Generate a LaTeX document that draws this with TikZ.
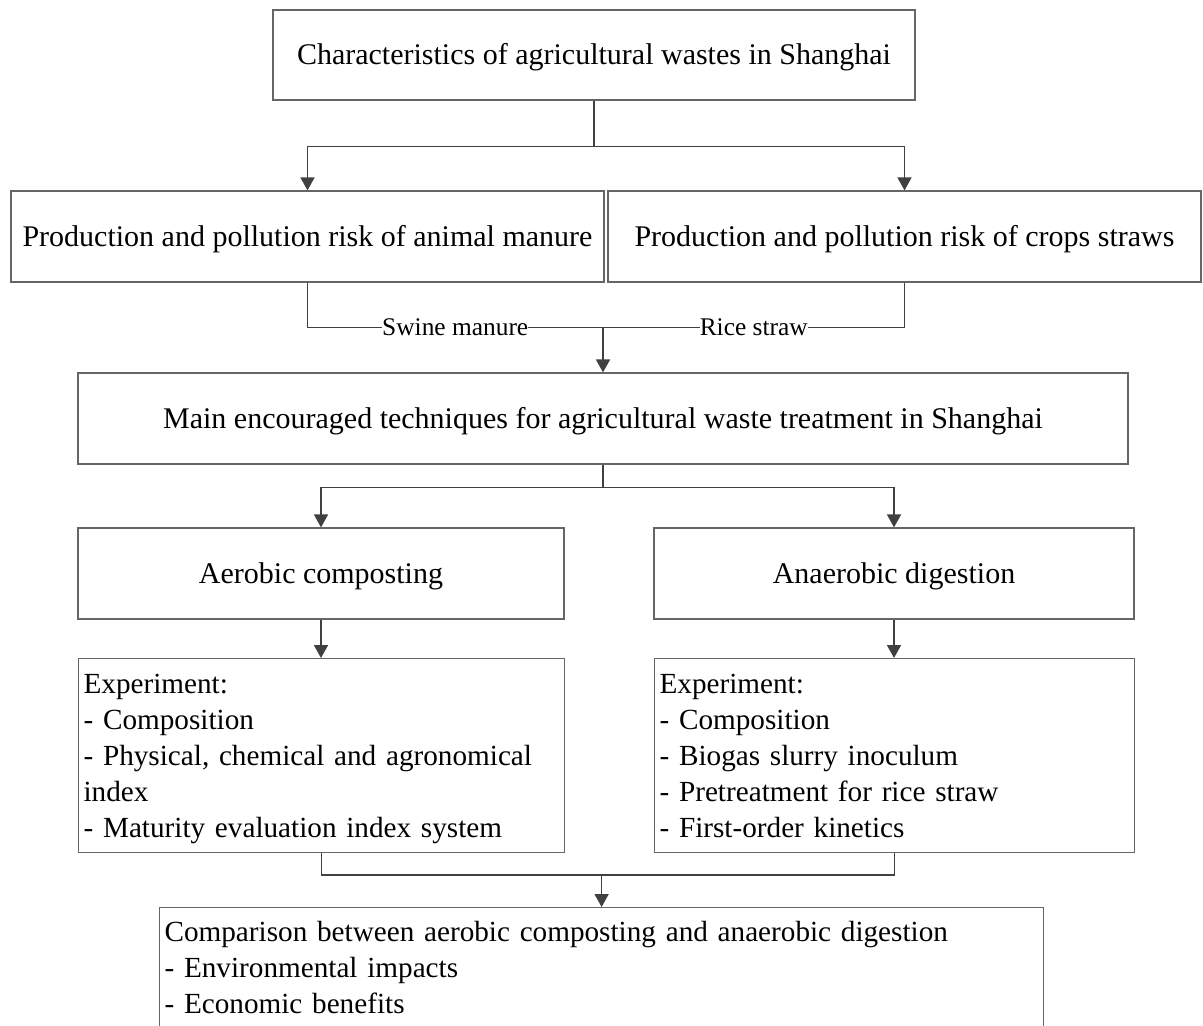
\documentclass[tikz,border=0pt]{standalone}
\usepackage{fontspec}
\setmainfont{Liberation Serif}
\usepackage{tikz}
\usetikzlibrary{arrows.meta}

\tikzset{
	box/.style={draw=black!60, line width=0.6pt, minimum height=45.5pt, inner sep=0pt, text height=11pt, text depth=1pt, font=\fontsize{15}{18}\selectfont},
	listbox/.style={draw=black!60, line width=0.6pt, anchor=north west, align=left, inner xsep=2.5pt, inner ysep=0pt, text height=17.5pt, text depth=79.5pt, font=\fontsize{14.6}{18}\selectfont},
	link/.style={draw=black!75, line width=0.85pt},
	arr/.style={link, -{Triangle[width=7pt,length=6.5pt]}},
	lbl/.style={fill=white, inner xsep=0pt, inner ysep=1pt, font=\fontsize{12.7}{15}\selectfont}
}

\begin{document}
\begin{tikzpicture}[x=0.5pt, y=-0.5pt]
		\useasboundingbox (0,0) rectangle (1203,1026);
		\clip (0,0) rectangle (1203,1026);

		\node[box, minimum width=321pt, minimum height=45pt] (chars) at (594,55) {Characteristics of agricultural wastes in Shanghai};
		\node[box, minimum width=296.5pt] (manure) at (307.5,236.5) {Production and pollution risk of animal manure};
		\node[box, minimum width=296.5pt] (straw) at (904.5,236.5) {Production and pollution risk of crops straws};
		\node[box, minimum width=525pt] (tech) at (603,418.5) {Main encouraged techniques for agricultural waste treatment in Shanghai};
		\node[box, minimum width=243pt] (aerobic) at (321,573.5) {Aerobic composting};
		\node[box, minimum width=240pt] (anaerobic) at (894,573.5) {Anaerobic digestion};
		\node[listbox, text width=238pt] (expA) at (78,658) {Experiment:\\- Composition\\- Physical, chemical and agronomical\\index\\- Maturity evaluation index system};
		\node[listbox, text width=235pt] (expB) at (654,658) {Experiment:\\- Composition\\- Biogas slurry inoculum\\- Pretreatment for rice straw\\- First-order kinetics};
		\node[listbox, text width=437pt, text height=17pt, text depth=58pt] (compare) at (159,907) {Comparison between aerobic composting and anaerobic digestion\\- Environmental impacts\\- Economic benefits};

		% splits and merges
		\draw[link] (chars.south) -- ++(0,46) coordinate (split1);
		\path (tech.north) ++(0,-45) coordinate (merge1);
		\draw[link] (tech.south) -- ++(0,23) coordinate (split2);
		\path (compare.north) ++(0,-32) coordinate (merge2);

		\foreach \s/\t in {split1/manure, split1/straw, split2/aerobic, split2/anaerobic} {
			\draw[arr] (\s) -| (\t.north);
		}
		\draw[link] (manure.south) |- node[lbl, pos=0.75] {Swine manure} (merge1);
		\draw[link] (straw.south) |- node[lbl, pos=0.75] {Rice straw} (merge1);
		\draw[arr] (merge1) -- (tech.north);

		\foreach \s/\t in {aerobic/expA, anaerobic/expB} {
			\draw[arr] (\s.south) -- (\s.south |- \t.north);
		}
		\foreach \s in {expA, expB} {
			\draw[link] (\s.south) |- (merge2);
		}
		\draw[arr] (merge2) -- (compare.north);
	\end{tikzpicture}
\end{document}
